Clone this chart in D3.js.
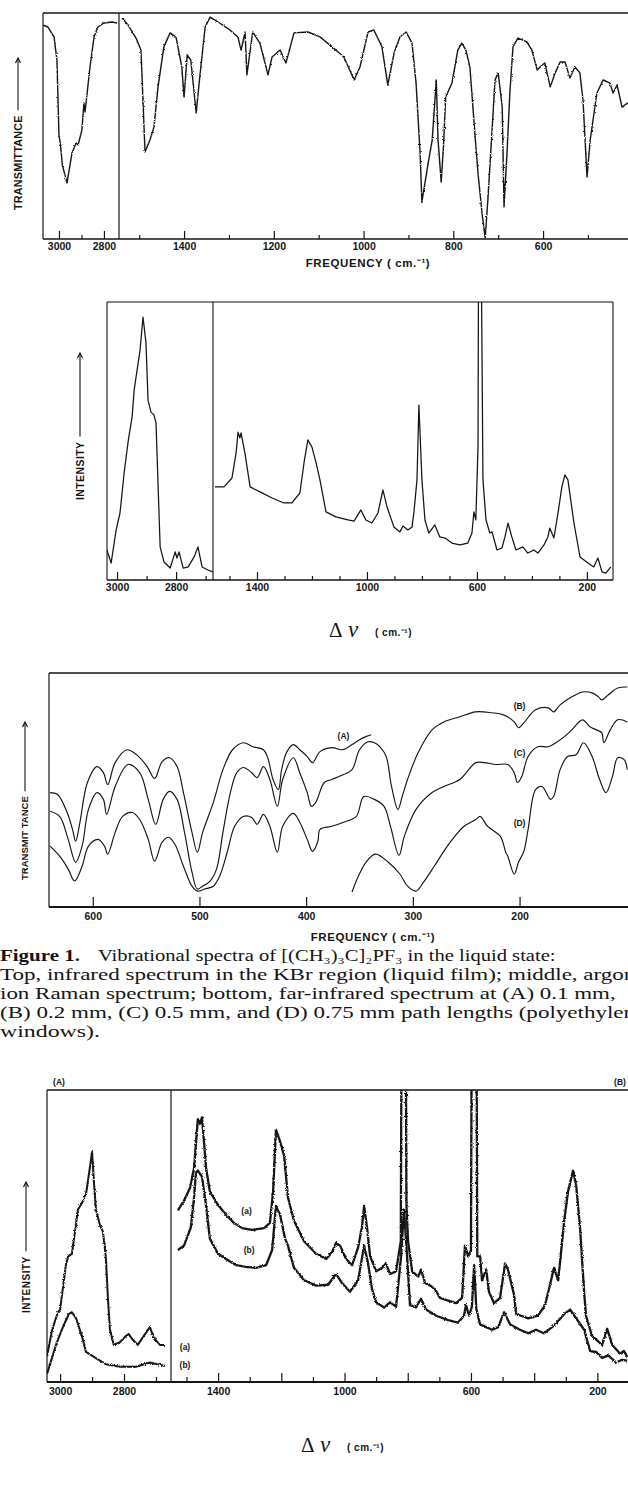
<!DOCTYPE html>
<html><head><meta charset="utf-8">
<script src="https://cdn.jsdelivr.net/npm/d3@7"></script>
<style>
html,body{margin:0;padding:0;background:#fff;}
svg{display:block;}
.tick text{font-family:"Liberation Sans",Arial,sans-serif;font-weight:bold;font-size:10.5px;fill:#151515;}
.lab{font-family:"Liberation Sans",Arial,sans-serif;font-weight:bold;fill:#151515;}
.cap{font-family:"Liberation Serif","Times New Roman",serif;fill:#151515;}
</style></head><body>
<svg id="fig" width="628" height="1489"></svg>
<script>
// ---------------- DATA (wavenumber cm-1, relative value 0-100 of panel height) ----------------
// Top: infrared spectrum (transmittance), high-frequency segment and KBr segment
const irHigh = [[3071,94.7],[3049,93.8],[3022,89.4],[3009,79.2],[3000,46.0],[2993,41.6],[2985,32.7],[2964,24.8],[2942,38.1],[2924,42.5],[2915,41.6],[2907,44.7],[2898,48.2],[2889,60.2],[2884,56.2],[2862,76.1],[2844,89.4],[2827,93.8],[2800,95.6],[2764,96.0],[2742,95.6]];
const irLow = [[1538,97.8],[1525,94.7],[1507,88.9],[1496,83.6],[1487,38.5],[1476,43.8],[1467,49.6],[1458,67.3],[1445,85.0],[1431,91.2],[1418,89.4],[1405,76.1],[1400,62.8],[1393,81.4],[1385,79.2],[1373,55.8],[1365,71.7],[1353,93.8],[1342,98.2],[1324,96.0],[1298,92.5],[1280,89.4],[1273,83.6],[1264,91.6],[1260,72.6],[1247,91.6],[1231,86.7],[1213,72.6],[1204,80.5],[1186,83.6],[1173,77.9],[1155,91.2],[1124,91.6],[1097,89.4],[1070,85.0],[1044,80.5],[1021,70.4],[1008,76.1],[990,91.6],[977,92.5],[959,85.0],[946,68.1],[932,82.3],[919,89.4],[905,91.6],[892,86.7],[883,69.0],[874,38.1],[870,16.4],[856,33.6],[847,43.8],[838,70.4],[834,43.8],[827,25.2],[822,40.7],[817,62.8],[803,69.0],[790,83.6],[781,86.7],[772,83.6],[763,76.1],[752,46.9],[745,29.2],[736,11.5],[729,0.4],[723,17.3],[714,46.9],[707,70.4],[700,73.5],[691,58.4],[687,14.2],[680,39.4],[674,64.6],[667,85.0],[656,88.9],[636,87.2],[625,83.6],[613,74.8],[602,77.0],[596,77.9],[584,67.3],[573,73.5],[562,78.3],[551,78.3],[540,71.2],[529,76.1],[518,73.5],[511,61.5],[502,27.4],[495,43.8],[480,64.6],[466,70.4],[451,69.0],[444,64.6],[435,68.1],[424,58.4],[411,60.2]];
const irTicksLeft = [3000, 2800], irMinorLeft = [2900];
const irTicksRight = [1400, 1200, 1000, 800, 600], irMinorRight = [1500, 1300, 1100, 900, 700, 500];

// Middle: argon-ion Raman spectrum (intensity)
const ramanHigh = [[3034,10.8],[3031,9.7],[3020,6.1],[3003,18.0],[2990,24.1],[2976,38.5],[2963,49.3],[2959,52.2],[2949,58.6],[2942,68.3],[2936,72.7],[2922,82.7],[2912,94.6],[2902,85.3],[2895,64.7],[2885,60.4],[2875,59.4],[2868,56.5],[2854,11.9],[2841,6.5],[2820,4.3],[2803,10.1],[2797,7.9],[2790,10.1],[2776,4.3],[2759,4.7],[2739,8.3],[2726,11.9],[2712,4.7],[2692,3.6],[2675,2.9]];
const ramanLow = [[1553,33.5],[1520,33.5],[1491,36.7],[1476,45.7],[1469,53.2],[1462,51.1],[1458,52.9],[1444,45.7],[1425,33.5],[1389,31.7],[1345,29.5],[1302,27.7],[1273,27.7],[1262,29.1],[1244,31.3],[1229,42.1],[1215,50.4],[1200,47.8],[1185,42.1],[1171,36.0],[1149,24.5],[1113,22.7],[1069,21.6],[1047,21.2],[1022,25.2],[1004,21.6],[982,20.5],[960,24.1],[942,32.4],[927,26.3],[902,19.1],[880,17.3],[869,19.4],[851,18.0],[836,19.1],[829,24.5],[818,36.0],[811,62.9],[800,36.0],[789,21.6],[775,16.9],[753,19.8],[735,15.5],[716,15.1],[691,13.3],[662,12.6],[633,13.3],[618,16.9],[611,24.5],[604,21.6],[596,47.8],[593.5,140],[586,140],[578,36.0],[567,21.6],[553,16.9],[545,17.3],[527,10.8],[509,11.5],[498,15.5],[487,20.5],[473,15.5],[458,10.8],[433,11.9],[415,9.7],[393,10.8],[378,9.7],[356,12.6],[342,15.5],[335,18.7],[320,15.1],[305,24.1],[291,33.5],[280,37.8],[269,36.0],[247,20.5],[225,8.3],[196,6.1],[175,4.7],[160,7.9],[145,2.9],[131,2.5],[113,4.7]];
const ramanTicksLeft = [3000, 2800], ramanMinorLeft = [2900, 2700];
const ramanTicksRight = [1400, 1000, 600, 200], ramanMinorRight = [1500, 1300, 1200, 1100, 900, 800, 700, 500, 400, 300];

// Bottom-third: far-infrared spectra at four path lengths
const firA = [[640,48.9],[633,48.1],[624,40.4],[619,33.2],[616,28.1],[612,36.2],[605,53.2],[596,60.0],[590,57.4],[586,52.3],[579,61.7],[568,67.2],[559,65.1],[549,60.0],[542,54.9],[535,62.1],[528,63.8],[521,60.0],[515,48.9],[507,31.9],[502,23.4],[497,31.9],[487,44.7],[478,58.7],[469,67.2],[459,70.2],[450,68.5],[440,67.2],[436,63.8],[431,54.5],[426,50.2],[423,58.7],[418,66.4],[412,69.4],[406,67.2],[399,64.3],[394,61.7],[387,66.4],[376,68.1],[366,67.2],[357,69.4],[350,71.5],[344,72.8],[339,73.6]];
const firB = [[640,40.9],[631,38.7],[623,28.9],[616,19.1],[610,26.0],[604,41.7],[596,48.9],[590,46.0],[587,39.6],[579,51.5],[567,60.9],[556,57.4],[548,46.0],[541,35.3],[534,46.0],[528,49.4],[521,46.0],[514,31.9],[507,14.9],[502,7.7],[497,8.9],[490,11.1],[484,16.2],[478,31.9],[471,48.9],[465,57.4],[459,59.6],[451,57.4],[446,55.3],[440,60.0],[434,54.5],[427,43.0],[422,54.5],[412,63.8],[406,57.4],[399,48.9],[395,43.0],[391,44.7],[383,53.2],[376,54.5],[365,56.6],[357,58.7],[350,67.2],[342,70.6],[336,70.2],[331,68.5],[325,64.3],[320,51.5],[314,41.7],[310,47.2],[305,54.5],[295,66.0],[282,75.7],[271,79.1],[256,81.3],[241,83.4],[226,83.0],[215,82.1],[205,79.1],[201,76.6],[196,78.7],[185,84.3],[173,85.1],[168,83.4],[162,86.4],[151,89.8],[141,91.9],[132,91.5],[126,89.8],[123,88.5],[117,90.6],[108,93.6],[99,94.0]];
const firC = [[640,26.0],[631,21.7],[623,16.2],[617,11.1],[610,17.4],[604,26.0],[595,28.9],[589,26.0],[586,22.6],[579,31.9],[572,38.7],[563,40.4],[556,37.4],[548,28.9],[542,19.6],[535,27.7],[529,29.8],[523,26.8],[515,17.4],[507,8.9],[502,6.8],[495,7.7],[487,8.9],[481,13.2],[474,23.4],[467,34.5],[459,38.7],[451,38.3],[446,35.3],[440,39.6],[434,34.5],[427,23.4],[422,34.5],[412,40.0],[406,36.2],[399,28.9],[394,23.8],[389,28.1],[387,33.2],[376,34.5],[365,36.2],[353,38.7],[346,47.2],[336,46.0],[327,43.0],[321,34.5],[313,22.1],[308,30.2],[297,41.7],[282,48.9],[271,51.5],[256,54.5],[241,61.7],[233,61.7],[222,60.9],[211,60.9],[205,57.4],[202,53.2],[198,55.7],[192,64.3],[183,68.5],[173,68.5],[166,70.2],[158,72.8],[151,75.7],[141,80.0],[134,77.0],[128,75.7],[123,74.5],[121,70.2],[115,75.7],[108,80.0],[99,79.1]];
const firD = [[357,6.4],[351,13.2],[344,19.1],[335,22.6],[323,19.1],[312,14.0],[305,8.9],[297,6.8],[290,10.6],[280,17.4],[271,23.8],[263,28.9],[252,34.5],[241,37.4],[237,38.7],[230,34.5],[218,30.2],[213,23.4],[211,21.7],[205,14.0],[201,19.1],[196,23.8],[192,33.2],[185,50.2],[179,51.5],[171,46.0],[168,47.2],[162,58.7],[155,64.3],[147,65.1],[140,70.2],[132,64.3],[125,54.5],[119,48.9],[113,55.7],[108,63.8],[102,63.0],[99,58.7]];
const firTicks = [600, 500, 400, 300, 200];
const firLabels = [["(A)", 365, 73.2], ["(B)", 200, 86.0], ["(C)", 200, 66.0], ["(D)", 200, 36.0]];

// Bottom: Raman spectra (a) and (b)
const ram2aHigh = [[3041,8.8],[3025,17.9],[3007,23.9],[3000,24.8],[2982,40.0],[2975,43.0],[2963,43.9],[2944,59.1],[2932,61.2],[2919,64.2],[2907,73.3],[2900,78.8],[2894,68.2],[2888,59.1],[2875,53.6],[2866,51.5],[2857,43.0],[2850,27.9],[2844,17.9],[2832,12.7],[2813,13.6],[2794,15.8],[2785,16.4],[2775,14.8],[2757,12.7],[2738,15.8],[2719,18.8],[2707,15.2],[2688,12.7],[2672,12.7]];
const ram2bHigh = [[3041,2.7],[3013,12.7],[2988,19.7],[2972,23.3],[2963,23.9],[2950,21.8],[2932,15.8],[2919,10.3],[2888,8.2],[2857,6.1],[2813,5.2],[2763,5.2],[2719,6.7],[2672,5.5]];
const ram2aLow = [[1527,58.8],[1508,62.1],[1489,66.4],[1476,73.3],[1464,90.0],[1457,88.5],[1451,90.6],[1438,73.3],[1426,65.2],[1400,60.6],[1375,57.3],[1350,54.5],[1324,52.7],[1293,52.1],[1255,52.7],[1236,54.5],[1226,65.2],[1217,86.4],[1204,82.4],[1191,77.3],[1179,63.3],[1160,55.2],[1128,48.2],[1090,43.9],[1058,42.1],[1039,44.5],[1027,47.6],[1014,46.7],[995,42.1],[976,40.0],[957,46.1],[945,53.0],[938,60.3],[929,53.0],[919,43.0],[900,37.9],[881,39.1],[869,40.6],[856,37.0],[837,37.9],[822,48.2],[819,140],[807,140],[804,60.0],[799,48.2],[786,37.9],[767,36.1],[758,38.5],[745,33.9],[729,33.0],[714,31.8],[698,28.8],[672,27.9],[647,27.0],[628,28.8],[619,46.7],[609,43.0],[600,45.0],[597,140],[583,140],[580,43.0],[571,43.0],[565,34.8],[552,38.5],[543,30.9],[527,27.0],[508,28.8],[492,40.6],[483,38.5],[464,30.0],[457,23.3],[419,21.8],[388,22.7],[369,25.8],[362,27.9],[337,39.1],[324,34.8],[305,55.2],[293,65.2],[277,72.4],[267,67.3],[255,53.0],[242,30.9],[236,22.7],[217,15.8],[185,12.7],[169,18.2],[153,12.7],[128,9.7],[116,10.6],[106,8.8]];
const ram2bLow = [[1527,45.2],[1508,46.7],[1486,53.0],[1476,63.3],[1470,71.8],[1464,72.4],[1451,70.3],[1438,60.3],[1426,49.1],[1400,43.9],[1375,42.1],[1343,40.0],[1312,39.4],[1280,39.1],[1248,40.0],[1229,45.2],[1217,60.3],[1204,57.3],[1188,49.1],[1179,46.7],[1160,39.1],[1128,34.8],[1090,33.0],[1052,33.3],[1027,37.0],[1008,33.9],[983,30.9],[957,34.8],[938,46.7],[926,40.9],[913,31.8],[900,27.3],[875,25.5],[856,27.3],[837,25.8],[821,43.0],[812,59.1],[802,43.0],[793,26.4],[774,25.5],[758,28.5],[742,24.8],[710,22.7],[672,21.2],[641,20.3],[622,22.7],[616,26.4],[606,22.7],[597,25.8],[590,40.0],[583,25.0],[571,19.7],[552,18.8],[533,17.9],[514,18.8],[495,23.9],[476,19.7],[445,17.9],[419,16.7],[394,17.9],[369,16.7],[343,18.8],[324,20.9],[305,23.3],[286,24.8],[267,21.8],[242,17.9],[223,10.6],[204,10.3],[185,8.2],[166,9.1],[141,6.7],[122,7.6],[106,7.3]];
const ram2TicksLeft = [3000, 2800], ram2MinorLeft = [2900, 2700];
const ram2TicksRight = [1400, 1000, 600, 200], ram2MidRight = [1200, 800, 400], ram2MinorRight = [1500, 1300, 1100, 900, 700, 500, 300];
const ram2LabelsLow = [["(a)", 1310, 58.5], ["(b)", 1302, 45.2]];
const ram2LabelsHigh = [["(a)", 12.1], ["(b)", 5.8]];

const captionHead = "Figure 1.";
const captionFirst = "Vibrational spectra of [(CH\u2083)\u2083C]\u2082PF\u2083 in the liquid state:";
// [line text, portion visible up to the right edge, where that portion ends]
const captionLines = [
  ["Top, infrared spectrum in the KBr region (liquid film); middle, argon", "Top, infrared spectrum in the KBr region (liquid film); middle, argo", 624],
  ["ion Raman spectrum; bottom, far-infrared spectrum at (A) 0.1 mm,", "ion Raman spectrum; bottom, far-infrared spectrum at (A) 0.1 mm,", 616],
  ["(B) 0.2 mm, (C) 0.5 mm, and (D) 0.75 mm path lengths (polyethylene", "(B) 0.2 mm, (C) 0.5 mm, and (D) 0.75 mm path lengths (polyethyle", 624],
  ["windows).", "windows).", 100]
];

// ---------------- DRAWING ----------------
const INK = "#151515";
const svg = d3.select("#fig");
svg.append("rect").attr("width", 628).attr("height", 1489).attr("fill", "#fff");
const defs = svg.append("defs");
function roughFilter(id, scale, freq) {
  const f = defs.append("filter").attr("id", id).attr("x", "-2%").attr("y", "-2%").attr("width", "104%").attr("height", "104%");
  f.append("feTurbulence").attr("type", "fractalNoise").attr("baseFrequency", freq).attr("numOctaves", 2).attr("seed", 3).attr("result", "n");
  f.append("feDisplacementMap").attr("in", "SourceGraphic").attr("in2", "n").attr("scale", scale)
    .attr("xChannelSelector", "R").attr("yChannelSelector", "G");
  return "url(#" + id + ")";
}
const roughIR = roughFilter("roughIR", 2.2, 0.9);
const roughRam = roughFilter("roughRam", 2.6, 1.1);

let clipId = 0;
function clipRect(x0, y0, x1, y1) {
  const id = "clip" + (clipId++);
  defs.append("clipPath").attr("id", id).append("rect")
    .attr("x", x0).attr("y", y0).attr("width", x1 - x0).attr("height", y1 - y0);
  return "url(#" + id + ")";
}
function hline(x0, x1, y, w) {
  svg.append("line").attr("x1", x0).attr("x2", x1).attr("y1", y).attr("y2", y)
    .attr("stroke", INK).attr("stroke-width", w || 1.2);
}
function vline(x, y0, y1, w) {
  svg.append("line").attr("x1", x).attr("x2", x).attr("y1", y0).attr("y2", y1)
    .attr("stroke", INK).attr("stroke-width", w || 1.1);
}
function trace(data, xs, ys, clip, w, curve, filter) {
  const g = svg.append("g").attr("clip-path", clip);
  g.append("path").datum(data)
    .attr("filter", filter || null)
    .attr("fill", "none").attr("stroke", INK).attr("stroke-width", w)
    .attr("stroke-linejoin", "round")
    .attr("d", d3.line().x(d => xs(d[0])).y(d => ys(d[1])).curve(curve || d3.curveLinear));
}
function axis(scale, y, values, size, pad, labels) {
  const a = d3.axisBottom(scale).tickValues(values).tickSize(-size).tickSizeOuter(0).tickPadding(pad)
    .tickFormat(labels ? d3.format("d") : () => "");
  const g = svg.append("g").attr("transform", `translate(0,${y})`).call(a);
  g.select(".domain").remove();
  g.selectAll(".tick line").attr("stroke", INK).attr("stroke-width", 1.2);
  if (!labels) g.selectAll(".tick text").remove();
  return g;
}
function yLabel(x, yBottom, arrowTop, text, fs, ls) {
  const t = svg.append("text").attr("class", "lab")
    .attr("transform", `translate(${x},${yBottom}) rotate(-90)`)
    .attr("font-size", fs).attr("letter-spacing", ls || 0).attr("dy", "0.35em").text(text);
  const len = t.node().getComputedTextLength();
  const yTop = yBottom - len - 5;
  svg.append("line").attr("x1", x).attr("x2", x).attr("y1", yTop).attr("y2", arrowTop)
    .attr("stroke", INK).attr("stroke-width", 1.1);
  svg.append("path").attr("d", `M${x - 2.5},${arrowTop + 5} L${x},${arrowTop} L${x + 2.5},${arrowTop + 5}`)
    .attr("fill", "none").attr("stroke", INK).attr("stroke-width", 1.2);
}
function label(x, y, text, fs, anchor) {
  return svg.append("text").attr("class", "lab").attr("x", x).attr("y", y)
    .attr("font-size", fs).attr("text-anchor", anchor || "middle").attr("dy", "0.35em").text(text);
}
function freqTitle(cx, y) {
  svg.append("text").attr("class", "lab").attr("x", cx).attr("y", y)
    .attr("text-anchor", "middle").attr("font-size", 11.5).attr("letter-spacing", 0.6)
    .text("FREQUENCY   ( cm.\u207B\u00B9)");
}
function deltaNuTitle(x, y) {
  svg.append("text").attr("x", x).attr("y", y).attr("font-family", "Liberation Serif, serif")
    .attr("font-size", 21).attr("fill", INK).text("Δ");
  svg.append("text").attr("x", x + 19).attr("y", y).attr("font-family", "Liberation Serif, serif")
    .attr("font-style", "italic").attr("font-size", 23).attr("fill", INK).text("ν");
  svg.append("text").attr("class", "lab").attr("x", x + 46).attr("y", y - 1)
    .attr("font-size", 10).attr("font-weight", "normal").attr("letter-spacing", 0.5)
    .text("( cm.\u207B\u00B9)");
}

// ---- Panel 1: IR ----
{
  const top = 13, bot = 239, L = 43, S = 119;
  const xL = d3.scaleLinear().domain([3071, 2733]).range([L, S]);
  const xR = d3.scaleLinear().domain([1545, 400]).range([S, 632.8]);
  const y = d3.scaleLinear().domain([0, 100]).range([bot, top]);
  hline(L, 640, top, 1.6); hline(L, 640, bot, 1.6); vline(L, top, bot, 1.2); vline(S, top, bot, 1.2);
  trace(irHigh, xL, y, clipRect(L, top, S, bot), 1.4, null, roughIR);
  trace(irLow, xR, y, clipRect(S, top, 640, bot), 1.4, null, roughIR);
  axis(xL, bot, irTicksLeft, 8, 4, true); axis(xL, bot, irMinorLeft, 4, 4, false);
  axis(xR, bot, irTicksRight, 8, 4, true); axis(xR, bot, irMinorRight, 4, 4, false);
  yLabel(18, 210, 58, "TRANSMITTANCE", 10.8, 0.2);
  freqTitle(368, 267);
}
// ---- Panel 2: Raman ----
{
  const top = 302, bot = 580, L = 107, S = 213, R = 613;
  const xL = d3.scaleLinear().domain([3034, 2675]).range([L, S]);
  const xR = d3.scaleLinear().domain([1560, 105]).range([S, R]);
  const y = d3.scaleLinear().domain([0, 100]).range([bot, top]);
  hline(L, R, top, 1.2); hline(L, R, bot, 1.6); vline(L, top, bot, 1.1); vline(S, top, bot, 1.1); vline(R, top, bot, 1.1);
  trace(ramanHigh, xL, y, clipRect(L, top, S, bot), 1.25);
  trace(ramanLow, xR, y, clipRect(S, top, R, bot), 1.25);
  axis(xL, bot, ramanTicksLeft, 8, 4, true); axis(xL, bot, ramanMinorLeft, 4, 4, false);
  axis(xR, bot, ramanTicksRight, 8, 4, true); axis(xR, bot, ramanMinorRight, 4, 4, false);
  yLabel(80, 500, 353, "INTENSITY", 10.5, 0.4);
  deltaNuTitle(329, 637);
}
// ---- Panel 3: far IR ----
{
  const top = 673, bot = 907, L = 49;
  const x = d3.scaleLinear().domain([641, 95]).range([L, 631.6]);
  const y = d3.scaleLinear().domain([0, 100]).range([bot, top]);
  hline(L, 640, top, 1.4); hline(L, 640, bot, 1.8); vline(L, top, bot, 1.2);
  const clip = clipRect(L, top, 640, bot);
  const cr = d3.curveCatmullRom.alpha(0.5);
  [firA, firB, firC, firD].forEach(d => trace(d, x, y, clip, 1.15, cr));
  axis(x, bot, firTicks, 10, 6, true);
  firLabels.forEach(([t, v, val]) => label(x(v), y(val), t, 8.5));
  yLabel(25, 880, 722, "TRANSMIT TANCE", 9.5, 0);
  freqTitle(373, 941);
}
// ---- Caption (each line horizontally fitted to the reference's line width) ----
{
  const fs = 17, lh = 19, y0 = 961;
  const probe = svg.append("text").attr("class", "cap").attr("font-size", fs);
  const widthOf = (s, bold) => { probe.attr("font-weight", bold ? "bold" : "normal").text(s); return probe.node().getComputedTextLength(); };
  const put = (s, x, y, target, bold) => {
    const sx = target / widthOf(s, bold);
    return svg.append("text").attr("class", "cap").attr("font-size", fs).attr("font-weight", bold ? "bold" : "normal")
      .attr("transform", `translate(${x},${y}) scale(${sx},1)`);
  };
  put(captionHead, 0, y0, 80, true).text(captionHead);
  put(captionFirst, 98, y0, 458, false).text(captionFirst);
  captionLines.forEach(([s, vis, end], i) => {
    put(vis, 0, y0 + lh * (i + 1), end, false).text(s);
  });
  probe.remove();
}
// ---- Panel 4: Raman (a)/(b) ----
{
  const top = 1090, bot = 1382, L = 47, S = 171;
  const xL = d3.scaleLinear().domain([3041, 2653]).range([L, S]);
  const xR = d3.scaleLinear().domain([1549, 100]).range([S, 629]);
  const y = d3.scaleLinear().domain([0, 100]).range([bot, top]);
  hline(L, 640, top, 1.5); hline(L, 640, bot, 1.8); vline(L, top, bot, 1.2); vline(S, top, bot, 1.2);
  const cL = clipRect(L, top, S, bot), cR = clipRect(S, top, 640, bot);
  trace(ram2aHigh, xL, y, cL, 2.0, null, roughRam); trace(ram2bHigh, xL, y, cL, 2.0, null, roughRam);
  trace(ram2aLow, xR, y, cR, 2.3, null, roughRam); trace(ram2bLow, xR, y, cR, 2.3, null, roughRam);
  axis(xL, bot, ram2TicksLeft, 8, 6, true); axis(xL, bot, ram2MinorLeft, 5, 6, false);
  axis(xR, bot, ram2TicksRight, 9, 6, true); axis(xR, bot, ram2MidRight, 9, 6, false);
  axis(xR, bot, ram2MinorRight, 5, 6, false);
  ram2LabelsLow.forEach(([t, v, val]) => label(xR(v), y(val), t, 8.5));
  ram2LabelsHigh.forEach(([t, val]) => label(S + 14, y(val), t, 8.5));
  label(59, 1082, "(A)", 8.5); label(620, 1082, "(B)", 8.5);
  yLabel(26, 1313, 1182, "INTENSITY", 10, 0.5);
  deltaNuTitle(301, 1452);
}
</script></body></html>
